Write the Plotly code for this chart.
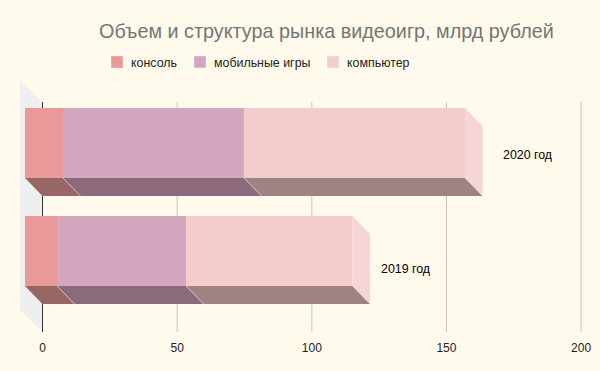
import plotly.graph_objects as go

years = ["2019 год", "2020 год"]
series = ["консоль", "мобильные игры", "компьютер"]
console = [11.9, 14.1]
mobile = [47.9, 67.2]
computer = [61.8, 82.1]
values = [console, mobile, computer]
front = ["#EA9999", "#D5A6BD", "#F4CCCC"]
under = ["#996666", "#8B6A7B", "#9F8282"]
side = "#F6D5D7"
ticks = [0, 50, 100, 150, 200]
label_x = [135.0, 180.3]
label_y = [-0.167, 0.89]

W, H = 600, 371
PX = 2.693            # pixels per value unit
X0 = 42.5             # pixel of value 0
BAND = 108.0          # pixels per category band
Y0 = 251.0            # pixel of band 0 centre
BOTTOM = 332.0
DX = 17.5 / PX
DY = 18 / BAND
THICK = 70 / BAND
y_pos = [0, 1]

fig = go.Figure()
cum = [0, 0]
for s, name in enumerate(series):
    bases = [c - DX for c in cum]
    fig.add_trace(go.Bar(y=y_pos, x=values[s], base=bases, orientation="h", width=THICK,
                         marker=dict(color=front[s], line=dict(width=0)), name=name, showlegend=False))
    for r in y_pos:
        a, b = cum[r], cum[r] + values[s][r]
        low = r - THICK / 2
        fig.add_trace(go.Scatter(
            x=[a - DX, b - DX, b, a, a - DX], y=[low, low, low - DY, low - DY, low],
            mode="lines", fill="toself", fillcolor=under[s], line=dict(width=0),
            showlegend=False, hoverinfo="skip"))
        if s > 0:
            fig.add_trace(go.Scatter(x=[a - DX, a], y=[low, low - DY], mode="lines",
                                     line=dict(color="rgba(255,255,255,0.55)", width=0.8),
                                     showlegend=False, hoverinfo="skip"))
        if s == len(series) - 1:
            high = r + THICK / 2
            fig.add_trace(go.Scatter(
                x=[b - DX, b, b, b - DX, b - DX], y=[high, high - DY, low - DY, low, high],
                mode="lines", fill="toself", fillcolor=side, line=dict(width=0),
                showlegend=False, hoverinfo="skip"))
    cum = [c + v for c, v in zip(cum, values[s])]

y_top = (Y0 - 102) / BAND
y_bot = (Y0 - BOTTOM) / BAND
wall = 22.5 / PX
wall_y = 22 / BAND
shapes = [dict(type="path", xref="x", yref="y", layer="below", line=dict(width=0), fillcolor="#EFEFEF",
               path=f"M {-wall} {y_top + wall_y} L 0 {y_top} L 0 {y_bot} L {-wall} {y_bot + wall_y} Z")]
for t in ticks:
    shapes.append(dict(type="line", xref="x", yref="y", layer="below", x0=t, x1=t, y0=y_top, y1=y_bot,
                       line=dict(color="#333333" if t == 0 else "#C9C7B6", width=1)))

# legend swatches and labels
legend_x = [111, 194, 327]
annotations = []
for name, color, lx in zip(series, front, legend_x):
    shapes.append(dict(type="rect", xref="paper", yref="paper", x0=lx / W, x1=(lx + 12) / W,
                       y0=1 - 68 / H, y1=1 - 56 / H, fillcolor=color,
                       line=dict(color="rgba(255,255,255,0.35)", width=1)))
    annotations.append(dict(text=name, xref="paper", yref="paper", x=(lx + 18) / W, y=1 - 62.5 / H,
                            xanchor="left", yanchor="middle", showarrow=False,
                            font=dict(family="Liberation Sans", size=12.4, color="#222222")))
for name, lx, ly in zip(years, label_x, label_y):
    annotations.append(dict(text=name, x=lx, y=ly, xref="x", yref="y", showarrow=False,
                            font=dict(family="Liberation Sans", size=12.4, color="#000000")))

fig.update_layout(
    width=W, height=H, margin=dict(l=0, r=0, t=0, b=0),
    paper_bgcolor="#FFFAEC", plot_bgcolor="rgba(0,0,0,0)", barmode="overlay",
    title=dict(text="Объем и структура рынка видеоигр, млрд рублей",
               x=99 / W, xref="paper", xanchor="left", y=1 - 31 / H, yref="paper", yanchor="middle",
               font=dict(family="Liberation Sans", size=19.8, color="#757575")),
    shapes=shapes, annotations=annotations, showlegend=False,
    xaxis=dict(range=[-X0 / PX, (W - X0) / PX], tickvals=ticks, showgrid=False, zeroline=False,
               showline=False, ticks="outside", ticklen=5, tickcolor="rgba(0,0,0,0)",
               tickfont=dict(family="Liberation Sans", size=12, color="#222222")),
    yaxis=dict(range=[(Y0 - BOTTOM) / BAND, Y0 / BAND], domain=[1 - BOTTOM / H, 1], visible=False),
)
fig.write_html("out.html", config={"displayModeBar": False},
               post_script="document.body.style.margin='0';document.body.style.background='#FFFAEC';document.documentElement.style.overflow='hidden';")
